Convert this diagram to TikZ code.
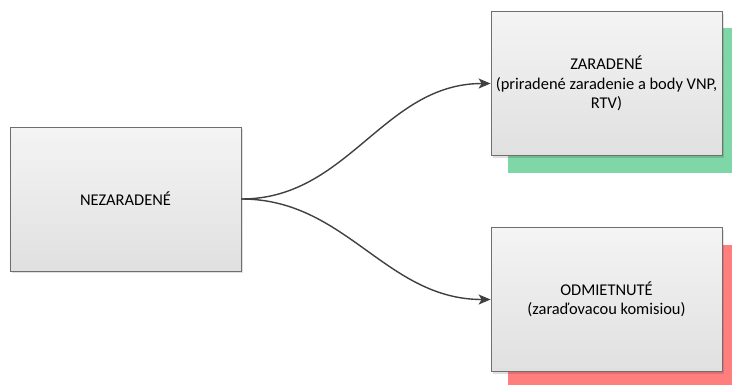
\documentclass[tikz,border=0pt]{standalone}
\usepackage{fontspec}
\setmainfont{Carlito}
\usetikzlibrary{arrows.meta,shadows}
\definecolor{boxline}{HTML}{6E6E6E}
\definecolor{boxtop}{HTML}{F4F4F4}
\definecolor{boxbot}{HTML}{E0E0E0}
\definecolor{arr}{HTML}{404040}
\definecolor{greenbg}{HTML}{7FD6A6}
\definecolor{redbg}{HTML}{FF7F7F}
\tikzset{
  statebox/.style={draw=boxline, line width=0.8bp, top color=boxtop, bottom color=boxbot,
    minimum width=231bp, minimum height=144bp, align=center, inner sep=2bp,
    font=\fontsize{16.5}{19.5}\selectfont,
    drop shadow={shadow xshift=2bp, shadow yshift=-2bp, fill=black, opacity=0.12}},
  conn/.style={draw=arr, line width=1.4bp, -{Stealth[length=12bp,width=10bp,inset=3bp]}}
}
\begin{document}
\begin{tikzpicture}[x=1bp,y=-1bp]
\useasboundingbox (0,0) rectangle (732,385);
\fill[greenbg] (508,28) rectangle (732,173);
\fill[redbg] (508,245) rectangle (732,385);
\node[statebox] (n) at (125.5,199) {NEZARADENÉ};
\node[statebox] (z) at (606.5,83.5) {ZARADENÉ\\(priradené zaradenie a body VNP,\\RTV)};
\node[statebox] (o) at (606.5,299.5) {ODMIETNUTÉ\\(zaraďovacou komisiou)};
\draw[conn] (n.east) to[out=0,in=180] (z.west);
\draw[conn] (n.east) to[out=0,in=180] (o.west);
\end{tikzpicture}
\end{document}
